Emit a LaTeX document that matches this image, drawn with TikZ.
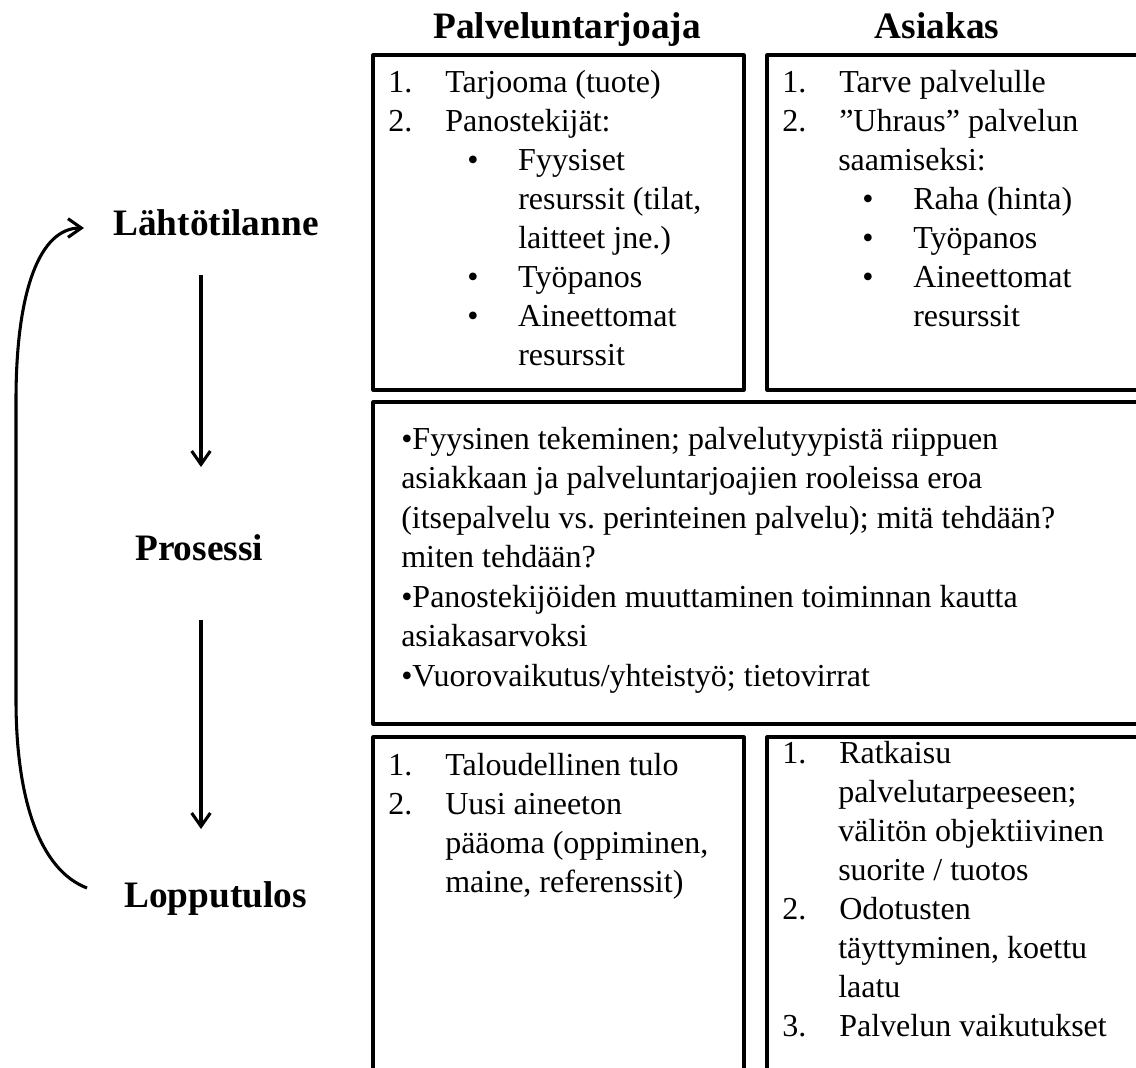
\documentclass[tikz,border=0pt]{standalone}
\usepackage{fontspec}
\setmainfont{Liberation Serif}
\usetikzlibrary{arrows.meta}
\newlength\px
\setlength\px{0.75pt}
% one line of box text, placed on its baseline
\newcommand\boxline[4]{\node[txt] (#1) at (#2,#3) {#4};}
\newcommand\num[1]{\makebox[57\px][l]{#1}}
\newcommand\bul{\makebox[51\px][l]{•}}
\begin{document}
\begin{tikzpicture}[x=0.75pt,y=-0.75pt,
  frame/.style={line width=2.3pt, line join=round},
  txt/.style={anchor=base west, inner sep=0pt, font=\fontsize{24}{29}\selectfont},
  head/.style={anchor=base, inner sep=0pt, font=\fontsize{28}{34}\selectfont\bfseries},
  stage/.style={anchor=base west, inner sep=0pt, font=\fontsize{28}{34}\selectfont\bfseries},
  tip/.style={-{Straight Barb[length=10pt,width=14pt]}},
  flow/.style={line width=2.3pt, tip}]
\useasboundingbox (0,0) rectangle (1136,1068);
\clip (0,0) rectangle (1136,1068);

% column headings
\node[head] (hprov) at (567,38) {Palveluntarjoaja};
\node[head] (hcust) at (937,38) {Asiakas};

% stage labels
\node[stage] (lahto) at (113,235) {Lähtötilanne};
\node[stage] (prosessi) at (135,560) {Prosessi};
\node[stage] (loppu) at (124,907) {Lopputulos};

% frames
\draw[frame] (373,55) rectangle (744,390);
\draw[frame] (767,55) rectangle (1160,390);
\draw[frame] (373,402) rectangle (1160,724);
\draw[frame] (373,737) rectangle (744,1090);
\draw[frame] (767,737) rectangle (1160,1090);

% provider, starting point
\boxline{p1}{388}{92}{\num{1.}Tarjooma (tuote)}
\boxline{p2}{388}{131}{\num{2.}Panostekijät:}
\boxline{p3}{467}{170}{\bul Fyysiset}
\boxline{p4}{518}{209}{resurssit (tilat,}
\boxline{p5}{518}{248}{laitteet jne.)}
\boxline{p6}{467}{287}{\bul Työpanos}
\boxline{p7}{467}{326}{\bul Aineettomat}
\boxline{p8}{518}{365}{resurssit}

% customer, starting point
\boxline{c1}{782}{92}{\num{1.}Tarve palvelulle}
\boxline{c2}{782}{131}{\num{2.}”Uhraus” palvelun}
\boxline{c3}{838}{170}{saamiseksi:}
\boxline{c4}{862}{209}{\bul Raha (hinta)}
\boxline{c5}{862}{248}{\bul Työpanos}
\boxline{c6}{862}{287}{\bul Aineettomat}
\boxline{c7}{913}{326}{resurssit}

% process
\boxline{m1}{401}{449}{•Fyysinen tekeminen; palvelutyypistä riippuen}
\boxline{m2}{401}{488.5}{asiakkaan ja palveluntarjoajien rooleissa eroa}
\boxline{m3}{401}{528}{(itsepalvelu vs.\ perinteinen palvelu); mitä tehdään?}
\boxline{m4}{401}{567.5}{miten tehdään?}
\boxline{m5}{401}{607}{•Panostekijöiden muuttaminen toiminnan kautta}
\boxline{m6}{401}{646.5}{asiakasarvoksi}
\boxline{m7}{401}{686}{•Vuorovaikutus/yhteistyö; tietovirrat}

% provider, outcome
\boxline{q1}{388}{775}{\num{1.}Taloudellinen tulo}
\boxline{q2}{388}{814}{\num{2.}Uusi aineeton}
\boxline{q3}{445}{853}{pääoma (oppiminen,}
\boxline{q4}{445}{892}{maine, referenssit)}

% customer, outcome
\boxline{d1}{782}{763}{\num{1.}Ratkaisu}
\boxline{d2}{838}{802}{palvelutarpeeseen;}
\boxline{d3}{838}{841}{välitön objektiivinen}
\boxline{d4}{838}{880}{suorite / tuotos}
\boxline{d5}{782}{919}{\num{2.}Odotusten}
\boxline{d6}{838}{958}{täyttyminen, koettu}
\boxline{d7}{838}{997}{laatu}
\boxline{d8}{782}{1036}{\num{3.}Palvelun vaikutukset}

% flow between stages
\coordinate (a1s) at (201,275);
\coordinate (a1e) at (201,467);
\coordinate (a2s) at (201,620);
\coordinate (a2e) at (201,829);
\draw[flow] (a1s) -- (a1e);
\draw[flow] (a2s) -- (a2e);

% feedback loop from outcome back to the starting point
\coordinate (loopS) at (87,888);
\coordinate (loopE) at (84,228);
\draw[flow] (loopS) .. controls (40,870) and (16,800) .. (16,700)
  -- (16,400) .. controls (16,290) and (40,228) .. (loopE);
\end{tikzpicture}
\end{document}
